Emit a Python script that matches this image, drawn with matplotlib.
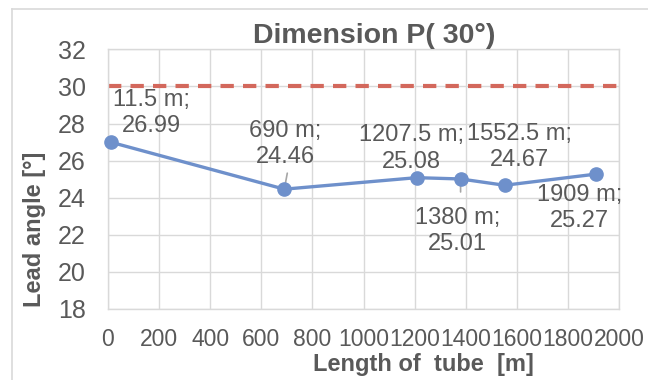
import matplotlib
matplotlib.use("Agg")
import matplotlib.pyplot as plt
from matplotlib.lines import Line2D

# ---- data ----
lengths = [11.5, 690, 1207.5, 1380, 1552.5, 1909]
angles = [26.99, 24.46, 25.08, 25.01, 24.67, 25.27]
limit_angle = 30
x_ticks = [0, 200, 400, 600, 800, 1000, 1200, 1400, 1600, 1800, 2000]
y_ticks = [18, 20, 22, 24, 26, 28, 30, 32]
title = "Dimension P( 30°)"
x_title = "Length of  tube  [m]"
y_title = "Lead angle [°]"

# label offsets in pixels (dx, dy) of last-line baseline centre
label_offsets = [(40, 10), (1, 26), (-5, 10), (-3, -71), (15, 19), (-16, -53)]
# leader line start offsets in pixels (None = no leader)
leader_starts = [None, (3, 16), None, (0, -13), None, None]

TEXT = "#595959"
GRID = "#D9D9D9"
BLUE = "#6E90CB"
RED = "#D3685C"
LEADER = "#A6A6A6"
FONT = "Liberation Sans"

plt.rcParams["font.family"] = [FONT, "DejaVu Sans"]

W, H = 648, 380
fig = plt.figure(figsize=(W / 100, H / 100), dpi=100)
fig.patch.set_facecolor("white")

left, right, top, bottom = 108, 619, 49.3, 309
ax = fig.add_axes([left / W, (H - bottom) / H, (right - left) / W, (bottom - top) / H])
ax.set_xlim(0, 2000)
ax.set_ylim(18, 32)
ax.set_xticks(x_ticks)
ax.set_yticks(y_ticks)
ax.set_xticklabels([str(t) for t in x_ticks], fontsize=16.5, color=TEXT)
ax.set_yticklabels([str(t) for t in y_ticks], fontsize=18, color=TEXT)
ax.tick_params(axis="both", length=0)
ax.tick_params(axis="y", pad=16)
ax.tick_params(axis="x", pad=14)
ax.grid(True, color=GRID, linewidth=1.0)
ax.set_axisbelow(True)
for s in ax.spines.values():
    s.set_color(GRID)
    s.set_linewidth(1.0)

# limit line
ax.axhline(limit_angle, color=RED, linewidth=3.0, linestyle=(0, (3.2, 2.2)), zorder=2)

# series
ax.plot(lengths, angles, color=BLUE, linewidth=2.4, marker="o", markersize=9.5,
        markerfacecolor=BLUE, markeredgecolor=BLUE, zorder=3, clip_on=False)

# leader lines
for x, y, st in zip(lengths, angles, leader_starts):
    if st is None:
        continue
    ax.annotate("", xy=(x, y), xytext=st, textcoords="offset pixels",
                arrowprops=dict(arrowstyle="-", color=LEADER, lw=1.2,
                                shrinkA=0, shrinkB=0),
                zorder=2.5)

# data labels
for x, y, (dx, dy) in zip(lengths, angles, label_offsets):
    txt = f"{x:g} m;\n{y:.2f}"
    ax.annotate(txt, xy=(x, y), xytext=(dx, dy), textcoords="offset pixels",
                ha="center", va="baseline", multialignment="center",
                fontsize=17, color=TEXT, linespacing=1.25, zorder=4)

# titles
fig.text(374 / W, (H - 43) / H, title, ha="center", va="baseline",
         fontsize=20.5, fontweight="bold", color=TEXT)
fig.text(423 / W, (H - 371) / H, x_title, ha="center", va="baseline",
         fontsize=17, fontweight="bold", color=TEXT)
fig.text(41 / W, (H - 229) / H, y_title, ha="center", va="baseline",
         rotation=90, rotation_mode="anchor",
         fontsize=17, fontweight="bold", color=TEXT)

# chart frame (cropped on right/bottom)
fig.add_artist(Line2D([12 / W, 12 / W], [0, (H - 9) / H], transform=fig.transFigure,
                      color=GRID, linewidth=1.2))
fig.add_artist(Line2D([12 / W, 1], [(H - 9) / H, (H - 9) / H], transform=fig.transFigure,
                      color=GRID, linewidth=1.2))

fig.savefig("out.png", dpi=100, facecolor="white")
